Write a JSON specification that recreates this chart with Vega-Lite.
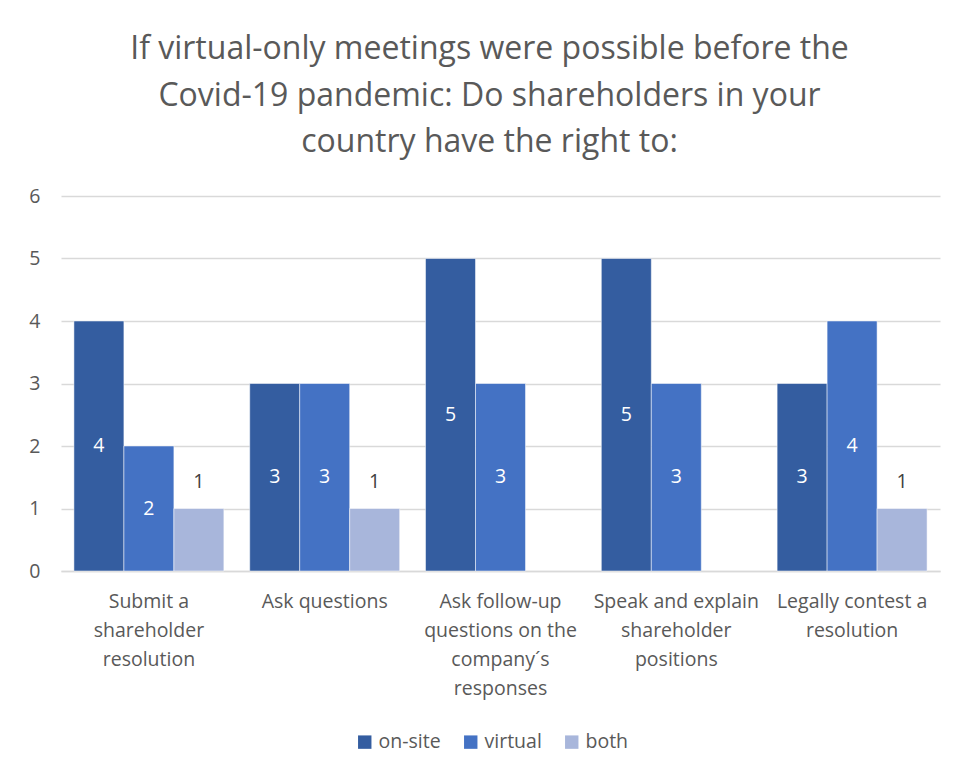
{
  "$schema": "https://vega.github.io/schema/vega-lite/v6.json",
  "width": 879,
  "height": 375,
  "autosize": "none",
  "padding": {"left": 61, "top": 196, "right": 22, "bottom": 205},
  "background": "white",
  "title": {
    "text": ["If virtual-only meetings were possible before the", "Covid-19 pandemic: Do shareholders in your", "country have the right to:"],
    "font": "Open Sans",
    "fontSize": 32,
    "fontWeight": "normal",
    "color": "#595959",
    "lineHeight": 46.5,
    "anchor": "middle",
    "dx": -11,
    "offset": 27
  },
  "data": {
    "values": [
      {"category": "Submit a|shareholder|resolution", "series": "on-site", "value": 4},
      {"category": "Submit a|shareholder|resolution", "series": "virtual", "value": 2},
      {"category": "Submit a|shareholder|resolution", "series": "both", "value": 1},
      {"category": "Ask questions", "series": "on-site", "value": 3},
      {"category": "Ask questions", "series": "virtual", "value": 3},
      {"category": "Ask questions", "series": "both", "value": 1},
      {"category": "Ask follow-up|questions on the|company´s|responses", "series": "on-site", "value": 5},
      {"category": "Ask follow-up|questions on the|company´s|responses", "series": "virtual", "value": 3},
      {"category": "Speak and explain|shareholder|positions", "series": "on-site", "value": 5},
      {"category": "Speak and explain|shareholder|positions", "series": "virtual", "value": 3},
      {"category": "Legally contest a|resolution", "series": "on-site", "value": 3},
      {"category": "Legally contest a|resolution", "series": "virtual", "value": 4},
      {"category": "Legally contest a|resolution", "series": "both", "value": 1}
    ]
  },
  "encoding": {
    "x": {
      "field": "category",
      "type": "nominal",
      "sort": null,
      "scale": {"paddingInner": 0.147, "paddingOuter": 0.0735},
      "axis": {
        "title": null,
        "labelAngle": 0,
        "labelExpr": "split(datum.value, '|')",
        "labelFont": "Open Sans",
        "labelFontSize": 19.5,
        "labelColor": "#595959",
        "labelLineHeight": 29,
        "labelPadding": 21,
        "labelBaseline": "top",
        "ticks": false,
        "domainColor": "#D9D9D9",
        "domainWidth": 1.5,
        "labelLimit": 300
      }
    },
    "xOffset": {
      "field": "series",
      "type": "nominal",
      "scale": {"domain": ["on-site", "virtual", "both"], "paddingInner": 0, "paddingOuter": 0}
    },
    "y": {
      "field": "value",
      "type": "quantitative",
      "scale": {"domain": [0, 6]},
      "axis": {
        "title": null,
        "values": [0, 1, 2, 3, 4, 5, 6],
        "labelOverlap": false,
        "domain": false,
        "ticks": false,
        "labelFont": "Open Sans",
        "labelFontSize": 19.5,
        "labelColor": "#595959",
        "labelPadding": 21,
        "gridColor": "#D9D9D9",
        "gridWidth": 1.5
      }
    }
  },
  "layer": [
    {
      "mark": {"type": "bar", "stroke": "white", "strokeWidth": 0.5},
      "encoding": {
        "color": {
          "field": "series",
          "type": "nominal",
          "scale": {"domain": ["on-site", "virtual", "both"], "range": ["#345DA0", "#4472C4", "#A8B6DB"]},
          "legend": {
            "title": null,
            "orient": "none",
            "legendX": 294,
            "legendY": 536,
            "direction": "horizontal",
            "symbolType": "square",
            "symbolSize": 180,
            "symbolStrokeWidth": 0,
            "labelFont": "Open Sans",
            "labelFontSize": 19.5,
            "labelColor": "#595959",
            "columnPadding": 20
          }
        }
      }
    },
    {
      "transform": [
        {"filter": "datum.series != 'both'"},
        {"calculate": "datum.value / 2", "as": "mid"}
      ],
      "mark": {"type": "text", "color": "white", "font": "Open Sans", "fontSize": 19.5, "baseline": "middle"},
      "encoding": {
        "y": {"field": "mid", "type": "quantitative"},
        "text": {"field": "value", "type": "quantitative"}
      }
    },
    {
      "transform": [{"filter": "datum.series == 'both'"}],
      "mark": {"type": "text", "color": "#404040", "font": "Open Sans", "fontSize": 19.5, "baseline": "middle", "dy": -27},
      "encoding": {
        "text": {"field": "value", "type": "quantitative"}
      }
    }
  ],
  "config": {"view": {"stroke": null}}
}
